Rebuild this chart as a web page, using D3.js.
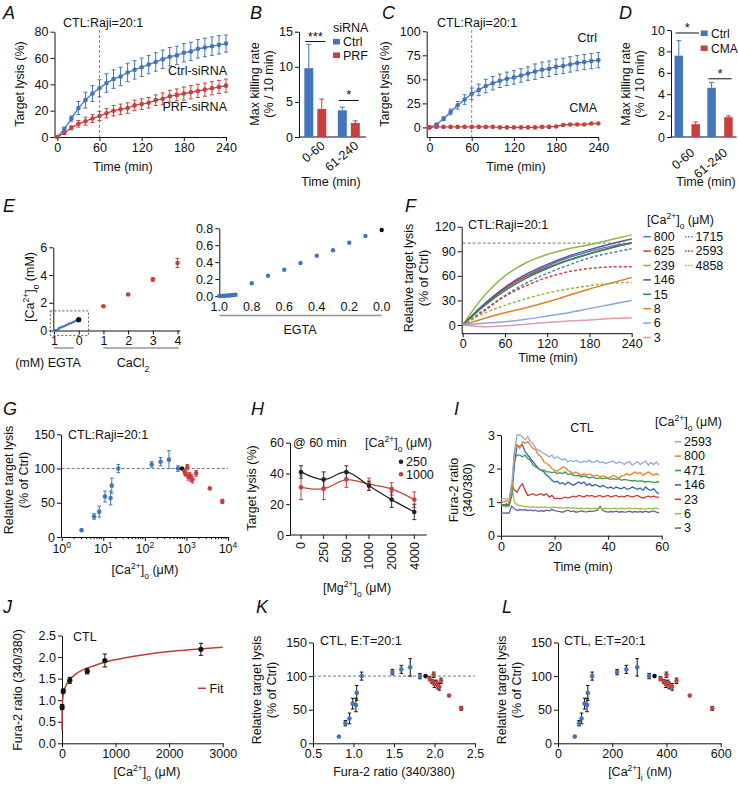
<!DOCTYPE html>
<html><head><meta charset="utf-8">
<script src="https://cdnjs.cloudflare.com/ajax/libs/d3/7.8.5/d3.min.js"></script>
<style>body{margin:0;background:#fff}svg{display:block}</style>
</head><body><script>
// ================= DATA =================
// Panel A
const timeA = [0,10,20,30,40,50,60,70,80,90,100,110,120,130,140,150,160,170,180,190,200,210,220,230,240];
const ctrlA = [0,6,14,22,28,33,37,41,44,46,49,51,53,55,57,59,61,62,64,65,67,68,69,70,71];
const ctrlAErr = [0,1.5,2,5,6,6,6.5,7,7,7,7,7,7,7,7,7,7,7,7,7,7,7,7,7,6.5];
const prfA = [0,3,7,10,12,14,16,18,20,21,22,24,25,26,28,29,31,32,33,34,35,36,37,38,39];
const prfAErr = [0,1,1.5,2.5,3,3,3.5,3.5,4,4,4,4,4,4,4,4.5,4.5,4.5,5,5,5,5,5,5,5];
// Panel B
const groupsB = ['0-60','61-240'];
const ctrlB = [9.8,3.8], ctrlBErr = [3.4,0.45];
const prfB = [4.0,2.0], prfBErr = [1.4,0.3];
const sigB = [{g:'0-60',y:13.6,label:'***'},{g:'61-240',y:5.2,label:'*'}];
// Panel C
const timeC = [0,10,20,30,40,50,60,70,80,90,100,110,120,130,140,150,160,170,180,190,200,210,220,230,240];
const ctrlC = [0,3,9,16,23,29,35,39,43,46,48.5,50.5,52,54,56,58,60,61,63,64,65.5,67,68,69,70];
const ctrlCErr = [0,1,2,3,4,5,6,6,7,7,7,7,7,7,7,8,8,8,8,8,8,8,8,8,8];
const cmaC = [0,0.5,0.5,0.5,0.5,0.5,0.5,0.5,0.5,0.5,0,0,0,0,0,0,0.5,0.5,1,2.5,3,3,3,4,4];
const cmaCErr = [0,0.5,0.5,0.5,0.5,0.5,0.5,0.5,0.5,0.5,0.5,0.5,0.5,0.5,0.5,0.5,0.5,0.5,0.5,0.8,0.8,0.8,0.8,0.8,0.8];
// Panel D
const groupsD = ['0-60','61-240'];
const ctrlD = [7.6,4.6], ctrlDErr = [1.4,0.5];
const cmaD = [1.2,1.85], cmaDErr = [0.2,0.12];
const sigD = [{g:'0-60',y:9.72,label:'*'},{g:'61-240',y:5.44,label:'*'}];
// Panel E
const egtaE = [1.0,0.99,0.98,0.97,0.96,0.95,0.94,0.93,0.92,0.91,0.9,0.8,0.7,0.6,0.5,0.4,0.3,0.2,0.1];
const caFreeE = [0.0,0.001,0.002,0.003,0.004,0.005,0.006,0.008,0.01,0.012,0.015,0.15,0.24,0.31,0.39,0.475,0.54,0.63,0.71];
const ctrlE = 0.78;
const cacl2E = [1,2,3,4];
const caTotE = [1.75,2.6,3.68,4.87];
const caTotErr = [0.05,0.05,0.12,0.32];
const insetXTicks = [1.0,0.8,0.6,0.4,0.2,0.0];
// Panel F
const timeF = [0,30,60,90,120,150,180,210,240];
const seriesF = [
  {ca:'800', v:[0,25,45,60,72,82,90,96,100], color:'#4f7fc2', dash:false},
  {ca:'625', v:[0,24,44,59,70,79,87,94,100], color:'#c94747', dash:false},
  {ca:'239', v:[0,35,60,76,86,93,98,104,110], color:'#93b840', dash:false},
  {ca:'146', v:[0,25,46,62,74,84,92,99,105], color:'#6a4f9e', dash:false},
  {ca:'15',  v:[0,23,42,57,69,79,87,94,100], color:'#2f8a4a', dash:false},
  {ca:'8',   v:[0,8,15,21,28,36,44,51,58], color:'#e3802a', dash:false},
  {ca:'6',   v:[0,2,4,7,11,15,20,25,30], color:'#86a9dc', dash:false},
  {ca:'3',   v:[0,-2,-1,1,3,5,6,8,9], color:'#e49aa2', dash:false},
  {ca:'1715',v:[0,18,36,51,63,73,82,88,93], color:'#4f7fc2', dash:true},
  {ca:'2593',v:[0,17,35,48,58,65,69,71,71], color:'#c94747', dash:true},
  {ca:'4858',v:[0,14,24,32,39,44,48,51,52], color:'#93b840', dash:true}
];
// Panel G / K / L
const caG = [3,6,8,11,15,16,23,146,239,380,625];
const relG = [10,30,37,59,57,75,100,106,110,113,100];
const errG = [0,4,8,8,10,11,6,4,6,13,4];
const caGctrl = 780, relGctrl = 100;
const caGr = [900,950,1050,1100,1200,1300,1400,1715,3650,7300];
const relGr = [96,92,102,88,90,86,84,93,71,52];
const errGr = [3,3,4,5,4,5,5,4,0,3];
const ratioK = [0.82,0.90,0.95,0.99,1.03,1.04,1.10,1.48,1.59,1.70,1.82];
const ratioKctrl = 1.89;
const ratioKr = [1.94,1.97,1.99,2.00,2.02,2.04,2.06,2.08,2.18,2.33];
const caiL = [62,78,87,98,107,110,126,218,252,292,336];
const caiLctrl = 356;
const caiLr = [378,390,400,398,405,410,421,437,486,569];
// Panel H
const mgH = ['0','250','500','1000','2000','4000'];
const ca250H = [41,36,41,32,23,15], ca250HErr = [4,5,4,3,5,5];
const ca1000H = [31,30,36,33,30,23], ca1000HErr = [8,7,5,4,4,5];
// Panel I
const timeI = [0,1,2,3,4,5,6,7,8,9,10,11,12,13,14,15,16,17,18,19,20,21,22,23,24,25,26,27,28,29,30,31,32,33,34,35,36,37,38,39,40,41,42,43,44,45,46,47,48,49,50,51,52,53,54,55,56,57,58,59];
const seriesI = [
  {ca:'2593', color:'#93a9d8', v:[1.1,1.1,1.1,1.1,1.5,2.5,3.0,3.0,2.95,2.85,2.95,2.8,2.75,2.6,2.55,2.5,2.45,2.4,2.35,2.4,2.3,2.35,2.3,2.25,2.3,2.2,2.25,2.2,2.25,2.2,2.18,2.22,2.2,2.25,2.18,2.2,2.24,2.18,2.2,2.15,2.18,2.2,2.22,2.15,2.2,2.18,2.12,2.18,2.2,2.1,2.15,2.2,2.12,2.18,2.22,2.1,2.18,2.12,2.2,2.1]},
  {ca:'800', color:'#e8822a', v:[1.0,1.0,1.05,1.0,1.3,2.5,2.7,2.6,2.8,2.75,2.8,2.7,2.6,2.55,2.4,2.35,2.2,2.15,2.1,2.0,1.95,1.92,1.98,2.05,2.02,1.95,1.9,1.85,1.9,1.85,1.8,1.85,1.8,1.84,1.8,1.78,1.8,1.75,1.78,1.75,1.72,1.75,1.8,1.75,1.72,1.78,1.8,1.85,1.8,1.85,1.9,1.85,1.88,1.8,1.85,1.9,1.85,1.8,1.85,1.8]},
  {ca:'471', color:'#3a9a45', v:[0.9,0.92,0.9,0.9,1.2,2.3,2.4,2.4,2.35,2.4,2.3,2.25,2.1,2.05,2.0,1.95,1.95,1.9,1.9,1.88,1.9,1.85,1.88,1.85,1.9,1.82,1.85,1.8,1.78,1.8,1.75,1.78,1.75,1.72,1.75,1.72,1.7,1.72,1.7,1.72,1.7,1.68,1.7,1.68,1.7,1.65,1.68,1.66,1.65,1.63,1.65,1.62,1.64,1.62,1.6,1.62,1.6,1.58,1.6,1.6]},
  {ca:'146', color:'#2e66b2', v:[0.9,0.9,0.92,0.9,1.2,2.1,2.7,2.65,2.7,2.5,2.4,2.3,2.2,2.1,2.0,1.95,1.9,1.8,1.75,1.65,1.6,1.62,1.55,1.58,1.52,1.6,1.55,1.5,1.55,1.6,1.55,1.6,1.5,1.55,1.48,1.52,1.5,1.45,1.5,1.45,1.42,1.45,1.4,1.45,1.42,1.4,1.45,1.38,1.4,1.45,1.42,1.38,1.42,1.35,1.45,1.38,1.35,1.4,1.3,1.25]},
  {ca:'23', color:'#c83a3a', v:[0.95,0.9,0.95,0.9,1.55,1.35,1.3,1.45,1.55,1.35,1.2,1.22,1.25,1.2,1.22,1.25,1.2,1.25,1.15,1.2,1.1,1.12,1.1,1.12,1.15,1.12,1.15,1.18,1.15,1.2,1.18,1.15,1.2,1.18,1.2,1.15,1.18,1.2,1.15,1.18,1.2,1.15,1.18,1.2,1.15,1.18,1.15,1.2,1.18,1.15,1.18,1.2,1.15,1.12,1.15,1.18,1.15,1.18,1.15,1.15]},
  {ca:'6', color:'#97c04c', v:[0.95,0.9,0.85,0.9,1.5,1.0,0.92,0.9,0.88,0.87,0.86,0.85,0.86,0.85,0.84,0.85,0.84,0.85,0.83,0.84,0.85,0.83,0.84,0.82,0.83,0.84,0.82,0.83,0.82,0.81,0.82,0.8,0.82,0.81,0.8,0.82,0.81,0.83,0.8,0.82,0.81,0.8,0.82,0.81,0.8,0.82,0.8,0.81,0.83,0.8,0.82,0.8,0.81,0.79,0.8,0.82,0.8,0.81,0.82,0.8]},
  {ca:'3', color:'#7657a8', v:[0.67,0.67,0.68,0.67,0.88,0.8,0.75,0.78,0.76,0.78,0.75,0.77,0.74,0.76,0.72,0.75,0.73,0.76,0.74,0.78,0.75,0.73,0.72,0.7,0.73,0.76,0.72,0.74,0.7,0.72,0.74,0.72,0.71,0.73,0.72,0.74,0.76,0.87,0.75,0.72,0.7,0.72,0.71,0.73,0.7,0.72,0.7,0.71,0.73,0.7,0.72,0.7,0.72,0.7,0.73,0.7,0.72,0.74,0.7,0.68]}
];
// Panel J
const caJ = [3,23,146,471,800,2593];
const ratioJ = [0.84,1.21,1.46,1.67,1.92,2.18];
const ratioJErr = [0.06,0.05,0.07,0.06,0.15,0.14];
const fitJx = [0,3,6,10,20,40,70,100,150,250,400,600,800,1000,1500,2000,2500,3000];
const fitJy = [0.3,0.75,0.88,0.97,1.1,1.23,1.33,1.40,1.48,1.60,1.71,1.80,1.88,1.94,2.05,2.13,2.18,2.23];

// ================= DRAW =================
const W = 738, H = 785;
const FS = 12.5;
const FONT = '"Liberation Sans", Arial, Helvetica, sans-serif';
const BLUE = '#4275bb', RED = '#c5403f', INK = '#111';
const svg = d3.select('body').append('svg').attr('width', W).attr('height', H)
  .attr('font-family', FONT);
svg.append('rect').attr('width', W).attr('height', H).attr('fill', '#fff');

function txt(x, y, parts, opt = {}) {
  const size = opt.size || FS;
  const t = svg.append('text').attr('x', x).attr('y', y).attr('font-size', size)
    .attr('text-anchor', opt.anchor || 'start').attr('fill', opt.fill || INK);
  if (opt.rotate != null) t.attr('transform', `rotate(${opt.rotate},${x},${y})`);
  if (opt.italic) t.attr('font-style', 'italic');
  if (opt.dy) t.attr('dy', opt.dy);
  if (typeof parts === 'string') parts = [[parts]];
  parts.forEach(([s, k]) => {
    const ts = t.append('tspan').text(s);
    if (k === 'sup') ts.attr('baseline-shift', 'super').attr('font-size', size * 0.68);
    if (k === 'sub') ts.attr('baseline-shift', 'sub').attr('font-size', size * 0.68);
  });
  return t;
}
function styleAxis(g, size) {
  g.attr('font-family', FONT).attr('font-size', size || FS);
  g.selectAll('text').attr('fill', INK);
  g.selectAll('path,line').attr('stroke', INK).attr('stroke-width', 1);
}
function leftAxis(x, ys, ticks, fmt, size) {
  const g = svg.append('g').attr('transform', `translate(${x},0)`)
    .call(d3.axisLeft(ys).tickValues(ticks).tickFormat(fmt || (d => d)).tickSize(4).tickSizeOuter(0).tickPadding(2));
  styleAxis(g, size); return g;
}
function bottomAxis(y, xs, ticks, fmt, size) {
  const g = svg.append('g').attr('transform', `translate(0,${y})`)
    .call(d3.axisBottom(xs).tickValues(ticks).tickFormat(fmt || (d => d)).tickSize(4).tickSizeOuter(0).tickPadding(2));
  styleAxis(g, size); return g;
}
function errBars(xv, yv, ev, xs, ys, color, cap, upOnly) {
  const g = svg.append('g').attr('stroke', color).attr('stroke-width', 1);
  xv.forEach((x, i) => {
    const e = ev[i]; if (!e) return;
    const px = xs(x), top = ys(yv[i] + e), bot = upOnly ? ys(yv[i]) : ys(yv[i] - e);
    g.append('line').attr('x1', px).attr('x2', px).attr('y1', top).attr('y2', bot);
    g.append('line').attr('x1', px - cap).attr('x2', px + cap).attr('y1', top).attr('y2', top);
    if (!upOnly) g.append('line').attr('x1', px - cap).attr('x2', px + cap).attr('y1', bot).attr('y2', bot);
  });
}
function dots(xv, yv, xs, ys, color, r) {
  svg.append('g').selectAll('circle').data(xv).join('circle')
    .attr('cx', d => xs(d)).attr('cy', (d, i) => ys(yv[i])).attr('r', r).attr('fill', color);
}
function pathLine(xv, yv, xs, ys, color, w, curve, dash) {
  const p = svg.append('path').datum(xv.map((x, i) => [x, yv[i]]))
    .attr('d', d3.line().x(d => xs(d[0])).y(d => ys(d[1])).curve(curve || d3.curveLinear))
    .attr('fill', 'none').attr('stroke', color).attr('stroke-width', w);
  if (dash) p.attr('stroke-dasharray', dash);
  return p;
}
function hRef(xs, ys, val) {
  const [a, b] = xs.range();
  svg.append('line').attr('x1', a).attr('x2', b).attr('y1', ys(val)).attr('y2', ys(val))
    .attr('stroke', '#777').attr('stroke-width', 1).attr('stroke-dasharray', '3,2');
}
const CA_O = (unit) => [['[Ca'], ['2+', 'sup'], [']'], ['o', 'sub'], [' (' + unit + ')']];
const letter = (x, y, s) => txt(x, y, s, { size: 18, italic: true });

// ---------- Panel A ----------
{
  const xs = d3.scaleLinear().domain([-4, 240]).range([54.5, 226]);
  const ys = d3.scaleLinear().domain([0, 80]).range([137, 31.7]);
  svg.append('line').attr('x1', xs(60)).attr('x2', xs(60)).attr('y1', 30).attr('y2', ys(0))
    .attr('stroke', '#888').attr('stroke-dasharray', '3,2');
  leftAxis(xs.range()[0], ys, [0, 20, 40, 60, 80]);
  bottomAxis(ys.range()[0], xs, [0, 60, 120, 180, 240]);
  errBars(timeA, ctrlA, ctrlAErr, xs, ys, BLUE, 2);
  errBars(timeA, prfA, prfAErr, xs, ys, RED, 2);
  pathLine(timeA, ctrlA, xs, ys, BLUE, 1.3);
  pathLine(timeA, prfA, xs, ys, RED, 1.3);
  dots(timeA, ctrlA, xs, ys, BLUE, 2.3);
  dots(timeA, prfA, xs, ys, RED, 2.3);
  letter(3, 19, 'A');
  txt(63, 27, 'CTL:Raji=20:1');
  txt(227, 75, 'Ctrl-siRNA', { anchor: 'end' });
  txt(227, 111, 'PRF-siRNA', { anchor: 'end' });
  txt(123, 171, 'Time (min)', { anchor: 'middle' });
  txt(24, 84, 'Target lysis (%)', { anchor: 'middle', rotate: -90 });
}
// ---------- bar panels ----------
function barPanel(cfg) {
  const ys = d3.scaleLinear().domain(cfg.ydom).range([137, cfg.ytop]);
  const x0 = d3.scaleBand().domain(cfg.groups).range(cfg.xr);
  const x1 = d3.scaleBand().domain(cfg.names).range(cfg.inner).paddingInner(cfg.pad);
  leftAxis(cfg.xr[0], ys, cfg.yticks);
  svg.append('line').attr('x1', cfg.xr[0]).attr('x2', cfg.xr[1]).attr('y1', ys(0)).attr('y2', ys(0)).attr('stroke', INK);
  [cfg.a, cfg.b].forEach((s, si) => {
    const name = cfg.names[si], col = si ? RED : BLUE;
    cfg.groups.forEach((g, gi) => {
      const x = x0(g) + x1(name);
      svg.append('rect').attr('x', x).attr('width', x1.bandwidth()).attr('y', ys(s.v[gi]))
        .attr('height', ys(0) - ys(s.v[gi])).attr('fill', col);
    });
    errBars(cfg.groups.map(g => x0(g) + x1(name) + x1.bandwidth() / 2), s.v, s.e, d => d, ys, col, 2.5, true);
  });
  cfg.sig.forEach(s => {
    const xa = x0(s.g) + x1(cfg.names[0]) + 1, xb = x0(s.g) + x1(cfg.names[1]) + x1.bandwidth() - 1;
    svg.append('line').attr('x1', xa).attr('x2', xb).attr('y1', ys(s.y)).attr('y2', ys(s.y)).attr('stroke', INK);
    txt((xa + xb) / 2, ys(s.y) - 1, s.label, { anchor: 'middle', size: 13 });
  });
  cfg.groups.forEach(g => {
    const cx = x0(g) + x0.bandwidth() / 2;
    txt(cx + cfg.lblDx, cfg.lblY, g, { anchor: 'end', rotate: -40 });
  });
  return { ys, x0, x1 };
}
{
  barPanel({ ydom: [0, 15], ytop: 31.7, groups: groupsB, names: ['Ctrl', 'PRF'], xr: [299, 366],
    inner: [5.3, 27.3], pad: 0.3077, yticks: [0, 5, 10, 15],
    a: { v: ctrlB, e: ctrlBErr }, b: { v: prfB, e: prfBErr }, sig: sigB, lblDx: 10, lblY: 147 });
  letter(250, 19, 'B');
  txt(333, 32, 'siRNA');
  svg.append('rect').attr('x', 333).attr('y', 39).attr('width', 7).attr('height', 5.5).attr('fill', BLUE);
  txt(343, 46, 'Ctrl');
  svg.append('rect').attr('x', 333).attr('y', 52.5).attr('width', 7).attr('height', 5.5).attr('fill', RED);
  txt(343, 59.5, 'PRF');
  txt(331, 186, 'Time (min)', { anchor: 'middle' });
  txt(259, 84, 'Max killing rate', { anchor: 'middle', rotate: -90 });
  txt(273, 84, '(% / 10 min)', { anchor: 'middle', rotate: -90 });
}
// ---------- Panel C ----------
{
  const xs = d3.scaleLinear().domain([-4, 240]).range([426.7, 598.3]);
  const ys = d3.scaleLinear().domain([-10, 100]).range([137, 31.3]);
  svg.append('line').attr('x1', xs(60)).attr('x2', xs(60)).attr('y1', 30).attr('y2', ys(-10))
    .attr('stroke', '#888').attr('stroke-dasharray', '3,2');
  leftAxis(xs.range()[0], ys, [0, 25, 50, 75, 100]);
  bottomAxis(ys.range()[0], xs, [0, 60, 120, 180, 240]);
  errBars(timeC, ctrlC, ctrlCErr, xs, ys, BLUE, 2);
  errBars(timeC, cmaC, cmaCErr, xs, ys, RED, 1.5);
  pathLine(timeC, ctrlC, xs, ys, BLUE, 1.3);
  pathLine(timeC, cmaC, xs, ys, RED, 1.3);
  dots(timeC, ctrlC, xs, ys, BLUE, 2.3);
  dots(timeC, cmaC, xs, ys, RED, 2.3);
  letter(382, 19, 'C');
  txt(437, 27, 'CTL:Raji=20:1');
  txt(597, 42, 'Ctrl', { anchor: 'end' });
  txt(597, 112, 'CMA', { anchor: 'end' });
  txt(516, 171, 'Time (min)', { anchor: 'middle' });
  txt(389, 84, 'Target lysis (%)', { anchor: 'middle', rotate: -90 });
}
// ---------- Panel D ----------
{
  barPanel({ ydom: [0, 10], ytop: 30, groups: groupsD, names: ['Ctrl', 'CMA'], xr: [671, 736.5],
    inner: [3.55, 28.95], pad: 0.497, yticks: [0, 2, 4, 6, 8, 10],
    a: { v: ctrlD, e: ctrlDErr }, b: { v: cmaD, e: cmaDErr }, sig: sigD, lblDx: 8, lblY: 154 });
  letter(619, 19, 'D');
  svg.append('rect').attr('x', 700.7).attr('y', 30.5).attr('width', 7).attr('height', 5.5).attr('fill', BLUE);
  txt(711, 37.5, 'Ctrl', { size: 12 });
  svg.append('rect').attr('x', 700.7).attr('y', 45.5).attr('width', 7).attr('height', 5.5).attr('fill', RED);
  txt(711, 52.5, 'CMA', { size: 12 });
  txt(706, 186, 'Time (min)', { anchor: 'middle' });
  txt(630, 84, 'Max killing rate', { anchor: 'middle', rotate: -90 });
  txt(644, 84, '(% / 10 min)', { anchor: 'middle', rotate: -90 });
}
// ---------- Panel E ----------
{
  const xs = d3.scaleLinear().domain([-1.03, 4.1]).range([53.3, 180]);
  const ys = d3.scaleLinear().domain([0, 6]).range([330.5, 247.3]);
  leftAxis(xs.range()[0], ys, [0, 2, 4, 6]);
  bottomAxis(ys.range()[0], xs, [-1, 0, 1, 2, 3, 4], d => Math.abs(d));
  svg.append('rect').attr('x', xs(-1.15)).attr('y', ys(0.8) - 8.5).attr('width', xs(0.4) - xs(-1.15))
    .attr('height', ys(-0.35) - ys(0.8) + 8.5).attr('fill', 'none').attr('stroke', '#444')
    .attr('stroke-dasharray', '2,2').attr('stroke-width', 0.9);
  const xl = egtaE.map(e => -e);
  pathLine(xl, caFreeE, xs, ys, BLUE, 1.5);
  dots(xl, caFreeE, xs, ys, BLUE, 1.3);
  dots([0], [ctrlE], xs, ys, INK, 2.6);
  errBars(cacl2E, caTotE, caTotErr, xs, ys, RED, 2);
  dots(cacl2E, caTotE, xs, ys, RED, 2.3);
  svg.append('line').attr('x1', xs(-1)).attr('x2', xs(-0.2)).attr('y1', 348).attr('y2', 348).attr('stroke', '#999').attr('stroke-width', 1.5);
  svg.append('line').attr('x1', xs(1)).attr('x2', xs(4.05)).attr('y1', 348).attr('y2', 348).attr('stroke', '#999').attr('stroke-width', 1.5);
  txt(48, 367, '(mM) EGTA', { anchor: 'middle' });
  txt(133, 367, [['CaCl'], ['2', 'sub']], { anchor: 'middle' });
  txt(34, 287, [['[Ca'], ['2+', 'sup'], [']'], ['o', 'sub'], [' (mM)']], { anchor: 'middle', rotate: -90 });
  letter(3, 212, 'E');
  const xi = d3.scaleLinear().domain([1.0, 0.0]).range([219.3, 381.7]);
  const yi = d3.scaleLinear().domain([0, 0.8]).range([296, 228.3]);
  leftAxis(xi.range()[0], yi, [0, 0.2, 0.4, 0.6, 0.8], d3.format('.1f'));
  svg.append('g').selectAll('text').data(insetXTicks).join('text')
    .attr('x', d => xi(d)).attr('y', 311).attr('text-anchor', 'middle').attr('font-size', FS)
    .attr('fill', INK).text(d3.format('.1f'));
  pathLine(egtaE.slice(0, 11), caFreeE.slice(0, 11), xi, yi, BLUE, 1.8);
  dots(egtaE, caFreeE, xi, yi, BLUE, 2.2);
  dots([0], [ctrlE], xi, yi, INK, 2.2);
  svg.append('line').attr('x1', xi(1.0)).attr('x2', xi(0)).attr('y1', 315.5).attr('y2', 315.5).attr('stroke', '#999').attr('stroke-width', 1.5);
  txt(300, 334, 'EGTA', { anchor: 'middle' });
}
// ---------- Panel F ----------
{
  const xs = d3.scaleLinear().domain([-1.4, 240]).range([461.7, 631.7]);
  const ys = d3.scaleLinear().domain([-10, 120]).range([333.2, 226.7]);
  leftAxis(xs.range()[0], ys, [0, 30, 60, 90, 120]);
  bottomAxis(ys.range()[0], xs, [0, 60, 120, 180, 240]);
  hRef(d3.scaleLinear().domain([0, 240]).range([xs(0), xs(240)]), ys, 100);
  seriesF.forEach(s => pathLine(timeF, s.v, xs, ys, s.color, 1.5, d3.curveCatmullRom, s.dash ? '3,2' : null));
  letter(405, 212, 'F');
  txt(468, 229, 'CTL:Raji=20:1');
  txt(647, 224, CA_O('μM'));
  seriesF.forEach((s, i) => {
    const col = s.dash ? 1 : 0, row = s.dash ? i - 8 : i;
    const y = 236.7 + row * 14.4;
    const sx = col ? 685 : 643.3;
    svg.append('line').attr('x1', sx).attr('x2', sx + 7.5).attr('y1', y).attr('y2', y)
      .attr('stroke', s.color).attr('stroke-width', 1.6).attr('stroke-dasharray', s.dash ? '1.5,1.5' : null);
    txt(sx + 10.5, y + 4.3, s.ca);
  });
  txt(548, 362, 'Time (min)', { anchor: 'middle' });
  txt(413, 278, 'Relative target lysis', { anchor: 'middle', rotate: -90 });
  txt(428, 278, '(% of Ctrl)', { anchor: 'middle', rotate: -90 });
}
// ---------- Panel G ----------
{
  const xs = d3.scaleLog().domain([1, 10000]).range([61.7, 228]);
  const ys = d3.scaleLinear().domain([0, 150]).range([537, 434.3]);
  leftAxis(61, ys, [0, 50, 100, 150]);
  const gx = svg.append('g').attr('transform', `translate(0,${ys(0)})`)
    .call(d3.axisBottom(xs).tickValues([1, 10, 100, 1000, 10000]).tickFormat('').tickSize(4).tickSizeOuter(0));
  styleAxis(gx);
  const minors = [];
  [1, 10, 100, 1000].forEach(dec => [2, 3, 4, 5, 6, 7, 8, 9].forEach(m => minors.push(dec * m)));
  gx.selectAll('.minor').data(minors).join('line').attr('class', 'minor')
    .attr('x1', d => xs(d)).attr('x2', d => xs(d)).attr('y1', 0).attr('y2', 2.2).attr('stroke', INK);
  [0, 1, 2, 3, 4].forEach(p => txt(xs(Math.pow(10, p)), ys(0) + 16, [['10'], [String(p), 'sup']], { anchor: 'middle' }));
  hRef(xs, ys, 100);
  errBars(caG, relG, errG, xs, ys, BLUE, 1.8);
  errBars(caGr, relGr, errGr, xs, ys, RED, 1.8);
  dots(caG, relG, xs, ys, BLUE, 2.3);
  dots([caGctrl], [relGctrl], xs, ys, INK, 2.3);
  dots(caGr, relGr, xs, ys, RED, 2.3);
  letter(3, 415, 'G');
  txt(68, 439, 'CTL:Raji=20:1');
  txt(145, 574, CA_O('μM'), { anchor: 'middle' });
  txt(13, 480, 'Relative target lysis', { anchor: 'middle', rotate: -90 });
  txt(28, 480, '(% of Ctrl)', { anchor: 'middle', rotate: -90 });
}
// ---------- Panel H ----------
{
  const xs = d3.scalePoint().domain(mgH).range([301, 414.3]);
  const ys = d3.scaleLinear().domain([0, 60]).range([535, 442.7]);
  leftAxis(290, ys, [0, 20, 40, 60]);
  svg.append('line').attr('x1', 290).attr('x2', 426.7).attr('y1', ys(0)).attr('y2', ys(0)).attr('stroke', INK);
  mgH.forEach(m => {
    svg.append('line').attr('x1', xs(m)).attr('x2', xs(m)).attr('y1', ys(0)).attr('y2', ys(0) + 4).attr('stroke', INK);
    txt(xs(m), ys(0) + 7, m, { anchor: 'end', rotate: -90, dy: '0.35em' });
  });
  const xsf = d => xs(d);
  errBars(mgH, ca1000H, ca1000HErr, xsf, ys, RED, 2);
  errBars(mgH, ca250H, ca250HErr, xsf, ys, '#333', 2);
  pathLine(mgH, ca1000H, xsf, ys, RED, 1.3, d3.curveCatmullRom);
  pathLine(mgH, ca250H, xsf, ys, '#222', 1.3, d3.curveCatmullRom);
  dots(mgH, ca1000H, xsf, ys, RED, 2.3);
  dots(mgH, ca250H, xsf, ys, '#222', 2.3);
  letter(251, 415, 'H');
  txt(293, 447, '@ 60 min');
  txt(365, 447, CA_O('μM'));
  svg.append('circle').attr('cx', 401).attr('cy', 461.7).attr('r', 2.3).attr('fill', '#222');
  txt(406, 466, '250');
  svg.append('circle').attr('cx', 401).attr('cy', 474.3).attr('r', 2.3).attr('fill', RED);
  txt(406, 478.6, '1000');
  txt(357, 592, [['[Mg'], ['2+', 'sup'], [']'], ['o', 'sub'], [' (μM)']], { anchor: 'middle' });
  txt(256, 488, 'Target lysis (%)', { anchor: 'middle', rotate: -90 });
}
// ---------- Panel I ----------
{
  const xs = d3.scaleLinear().domain([0, 60]).range([501, 661.7]);
  const ys = d3.scaleLinear().domain([0, 3]).range([535.7, 435]);
  leftAxis(501, ys, [0, 1, 2, 3]);
  bottomAxis(ys(0), xs, [0, 20, 40, 60]);
  seriesI.slice().reverse().forEach(s => pathLine(timeI, s.v, xs, ys, s.color, 1.3));
  letter(454, 415, 'I');
  txt(582, 432, 'CTL', { anchor: 'middle' });
  txt(655, 426, CA_O('μM'));
  seriesI.forEach((s, i) => {
    const y = 441.7 + i * 14.4;
    svg.append('line').attr('x1', 675).attr('x2', 681).attr('y1', y).attr('y2', y).attr('stroke', s.color).attr('stroke-width', 1.6);
    txt(684, y + 4.3, s.ca);
  });
  txt(583, 571, 'Time (min)', { anchor: 'middle' });
  txt(458, 490, 'Fura-2 ratio', { anchor: 'middle', rotate: -90 });
  txt(472, 490, '(340/380)', { anchor: 'middle', rotate: -90 });
}
// ---------- Panel J ----------
{
  const xs = d3.scaleLinear().domain([0, 3000]).range([62, 222.7]);
  const ys = d3.scaleLinear().domain([0, 2.5]).range([743.3, 635.5]);
  leftAxis(62, ys, [0, 0.5, 1, 1.5, 2, 2.5], d3.format('.1f'));
  bottomAxis(ys(0), xs, [0, 1000, 2000, 3000]);
  pathLine(fitJx, fitJy, xs, ys, '#c0393b', 1.5, d3.curveMonotoneX);
  errBars(caJ, ratioJ, ratioJErr, xs, ys, INK, 2.2);
  dots(caJ, ratioJ, xs, ys, INK, 2.6);
  letter(3, 613, 'J');
  txt(73, 641, 'CTL');
  svg.append('line').attr('x1', 198).attr('x2', 206).attr('y1', 688.3).attr('y2', 688.3).attr('stroke', '#c0393b').attr('stroke-width', 1.5);
  txt(209.5, 692.6, 'Fit');
  txt(147, 776, CA_O('μM'), { anchor: 'middle' });
  txt(22, 690, 'Fura-2 ratio (340/380)', { anchor: 'middle', rotate: -90 });
}
// ---------- Panels K & L ----------
function relPanel(cfg) {
  const xs = d3.scaleLinear().domain(cfg.xdom).range(cfg.xr);
  const ys = d3.scaleLinear().domain([0, 150]).range([743.3, 642.5]);
  leftAxis(cfg.xr[0], ys, [0, 50, 100, 150]);
  bottomAxis(ys(0), xs, cfg.xticks, cfg.fmt);
  if (cfg.ref) hRef(xs, ys, 100);
  errBars(cfg.xb, relG, errG, xs, ys, INK, 1.8);
  errBars(cfg.xr2, relGr, errGr, xs, ys, INK, 1.8);
  dots(cfg.xb, relG, xs, ys, BLUE, 2.3);
  dots([cfg.xc], [relGctrl], xs, ys, INK, 2.3);
  dots(cfg.xr2, relGr, xs, ys, RED, 2.3);
}
{
  relPanel({ xdom: [0.5, 2.5], xr: [313, 475], xticks: [0.5, 1.0, 1.5, 2.0, 2.5], fmt: d3.format('.1f'),
    ref: true, xb: ratioK, xc: ratioKctrl, xr2: ratioKr });
  letter(256, 613, 'K');
  txt(320, 645, 'CTL, E:T=20:1');
  txt(394, 776, 'Fura-2 ratio (340/380)', { anchor: 'middle' });
  txt(261, 690, 'Relative target lysis', { anchor: 'middle', rotate: -90 });
  txt(276, 690, '(% of Ctrl)', { anchor: 'middle', rotate: -90 });
  relPanel({ xdom: [0, 600], xr: [558, 720.7], xticks: [0, 200, 400, 600], fmt: d => d,
    ref: false, xb: caiL, xc: caiLctrl, xr2: caiLr });
  letter(502, 613, 'L');
  txt(564, 645, 'CTL, E:T=20:1');
  txt(640, 776, [['[Ca'], ['2+', 'sup'], [']'], ['i', 'sub'], [' (nM)']], { anchor: 'middle' });
  txt(506, 690, 'Relative target lysis', { anchor: 'middle', rotate: -90 });
  txt(521, 690, '(% of Ctrl)', { anchor: 'middle', rotate: -90 });
}
</script></body></html>
